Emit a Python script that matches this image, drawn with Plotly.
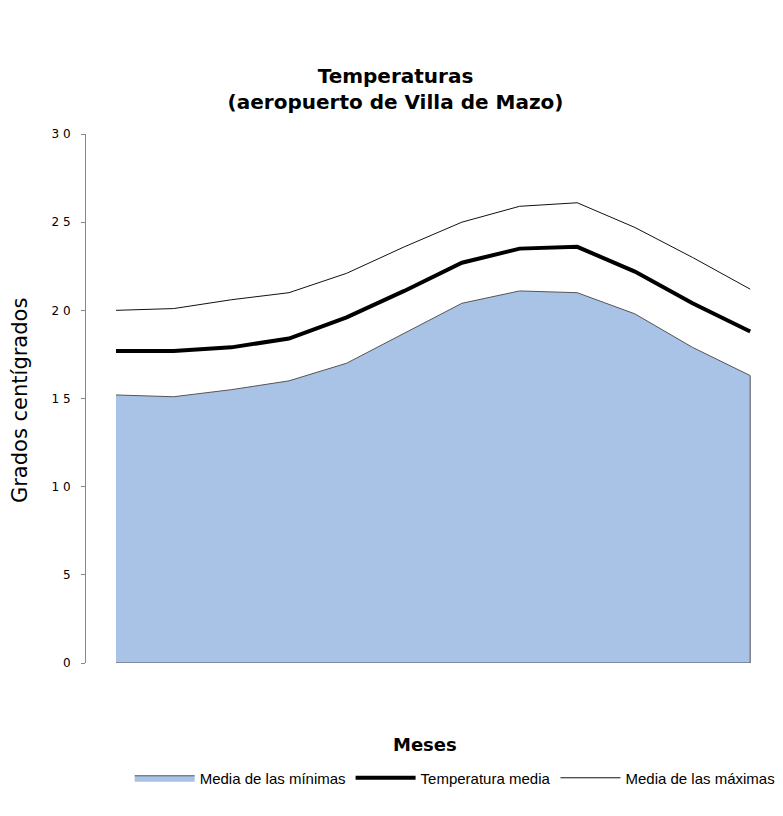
import plotly.graph_objects as go

# Monthly values (Jan..Dec)
meses = [1, 2, 3, 4, 5, 6, 7, 8, 9, 10, 11, 12]
media_minimas = [15.2, 15.1, 15.5, 16.0, 17.0, 18.7, 20.4, 21.1, 21.0, 19.8, 17.9, 16.3]
temp_media = [17.7, 17.7, 17.9, 18.4, 19.6, 21.1, 22.7, 23.5, 23.6, 22.2, 20.4, 18.8]
media_maximas = [20.0, 20.1, 20.6, 21.0, 22.1, 23.6, 25.0, 25.9, 26.1, 24.7, 23.0, 21.2]

y_ticks = [0, 5, 10, 15, 20, 25, 30]
y_ticktext = ["0", "5", "1 0", "1 5", "2 0", "2 5", "3 0"]

font = "Liberation Sans, Arial, sans-serif"
wide = "DejaVu Sans, sans-serif"

# close the minima polygon down to zero so the area gets its outline
area_x = meses + [meses[-1], meses[0]]
area_y = media_minimas + [0, 0]

fig = go.Figure()
fig.add_trace(go.Scatter(
    x=area_x, y=area_y, mode="lines", fill="toself",
    fillcolor="#a9c3e6", line=dict(color="#555555", width=1),
    name="Media de las mínimas",
))
fig.add_trace(go.Scatter(
    x=meses, y=temp_media, mode="lines",
    line=dict(color="#000000", width=4),
    name="Temperatura media",
))
fig.add_trace(go.Scatter(
    x=meses, y=media_maximas, mode="lines",
    line=dict(color="#111111", width=1),
    name="Media de las máximas",
))

# page body adds an 8px offset, so the figure is 8px smaller than the window
fig.update_layout(
    width=775, height=808,
    paper_bgcolor="white", plot_bgcolor="white",
    margin=dict(l=78, r=23, t=126, b=153),
    font=dict(family=font, size=14, color="#000000"),
    title=dict(
        text="<b>Temperaturas<br>(aeropuerto de Villa de Mazo)</b>",
        x=0.5, xanchor="center", y=0.907, yanchor="middle",
        font=dict(size=20, family=wide),
    ),
    showlegend=True,
    legend=dict(
        orientation="h", xref="container", yref="container",
        x=0.577, xanchor="center", y=0.047, yanchor="middle",
        font=dict(size=15, family=font),
        itemwidth=60, tracegroupgap=0,
    ),
    xaxis=dict(
        range=[0.48, 12.17], showgrid=False, zeroline=False,
        showticklabels=False, ticks="", showline=False,
    ),
    yaxis=dict(
        range=[0, 30], tickvals=y_ticks, ticktext=y_ticktext,
        showgrid=False, zeroline=False, showline=True,
        linecolor="#888888", linewidth=1,
        ticks="outside", ticklen=4, tickcolor="#888888",
        tickfont=dict(size=12, family=wide),
        ticklabelstandoff=8,
    ),
    annotations=[
        dict(text="<b>Meses</b>", x=0.503, y=-0.155, xref="paper", yref="paper",
             showarrow=False, xanchor="center", yanchor="middle",
             font=dict(size=18, family=wide)),
        dict(text="Grados centígrados", x=-0.098, y=0.497, xref="paper", yref="paper",
             showarrow=False, textangle=-90, xanchor="center", yanchor="middle",
             font=dict(size=21, family=wide)),
    ],
)

fig.write_html("out.html")
